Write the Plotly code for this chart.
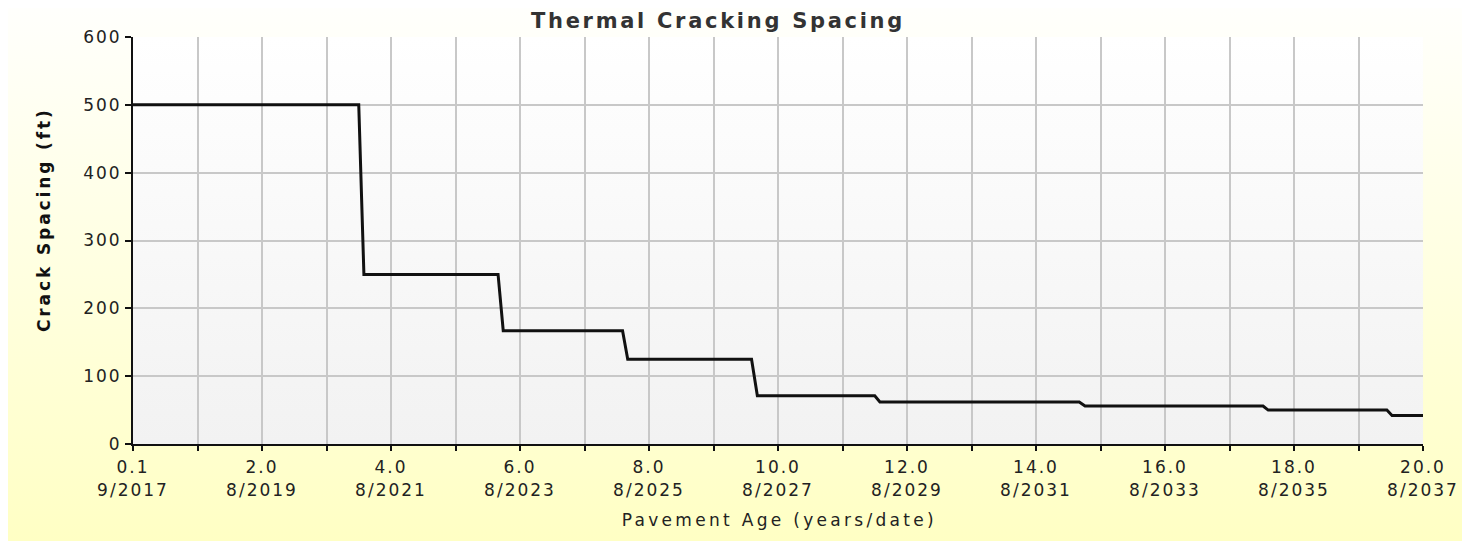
import base64
import plotly.graph_objects as go

# ---- data ----
age_years = [0.0, 3.50, 3.58, 5.66, 5.74, 7.59, 7.67, 9.59, 9.68, 11.50, 11.58,
             14.67, 14.76, 17.52, 17.60, 19.44, 19.52, 20.0]
crack_spacing_ft = [500, 500, 250, 250, 167, 167, 125, 125, 71, 71, 62,
                    62, 56, 56, 50, 50, 42, 42]

major_tick_vals = [0, 2, 4, 6, 8, 10, 12, 14, 16, 18, 20]
major_tick_ages = ["0.1", "2.0", "4.0", "6.0", "8.0", "10.0", "12.0", "14.0", "16.0", "18.0", "20.0"]
major_tick_dates = ["9/2017", "8/2019", "8/2021", "8/2023", "8/2025", "8/2027",
                    "8/2029", "8/2031", "8/2033", "8/2035", "8/2037"]
all_tick_vals = list(range(0, 21))
grid_x_vals = list(range(1, 20))
y_tick_vals = [0, 100, 200, 300, 400, 500, 600]

FONT = "DejaVu Sans"

OFF = 8                      # page body margin
W, H = 1478 - OFF, 542 - OFF  # figure size
L, R, T, B = 133, 1423, 37, 444  # plot area, screen pixels
pw, ph = R - L, B - T


def grad_uri(c_top, c_bottom):
    svg = ('<svg xmlns="http://www.w3.org/2000/svg" width="100" height="100" '
           'preserveAspectRatio="none"><defs><linearGradient id="g" x1="0" y1="0" x2="0" y2="1">'
           f'<stop offset="0" stop-color="{c_top}"/><stop offset="1" stop-color="{c_bottom}"/>'
           '</linearGradient></defs><rect width="100" height="100" fill="url(#g)"/></svg>')
    return "data:image/svg+xml;base64," + base64.b64encode(svg.encode()).decode()


def px_x(p):
    return (p - L) / pw


def px_y(p):
    return (B - p) / ph


label_map = {v: f"{a}<br>{d}" for v, a, d in zip(major_tick_vals, major_tick_ages, major_tick_dates)}
tick_text = [label_map.get(v, "") for v in all_tick_vals]

fig = go.Figure()
fig.add_trace(go.Scatter(x=age_years, y=crack_spacing_ft, mode="lines",
                         line=dict(color="#111111", width=3), hoverinfo="x+y",
                         showlegend=False))
# helper trace so the overlaying grid axis is drawn
fig.add_trace(go.Scatter(x=age_years, y=crack_spacing_ft, mode="lines",
                         line=dict(color="rgba(0,0,0,0)", width=0), hoverinfo="skip",
                         showlegend=False, xaxis="x2", yaxis="y"))

fig.update_layout(
    width=W, height=H,
    margin=dict(l=L - OFF, r=W - (R - OFF), t=T - OFF, b=H - (B - OFF), pad=0),
    paper_bgcolor="white",
    plot_bgcolor="rgba(0,0,0,0)",
    font=dict(family=FONT, size=17, color="#222222"),
    showlegend=False,
    xaxis=dict(range=[0, 20], tickmode="array", tickvals=all_tick_vals, ticktext=tick_text,
               ticks="outside", ticklen=5, tickwidth=2, tickcolor="#111111",
               ticklabelstandoff=2,
               showline=True, linecolor="#111111", linewidth=2,
               showgrid=False, zeroline=False,
               tickfont=dict(family=FONT, size=17, color="#222222")),
    xaxis2=dict(range=[0, 20], overlaying="x", anchor="y", side="bottom",
                tickmode="array", tickvals=grid_x_vals, showticklabels=False, ticks="",
                showgrid=True, gridcolor="#c8c8c8", gridwidth=2,
                showline=False, zeroline=False),
    yaxis=dict(range=[0, 600], tickmode="array", tickvals=y_tick_vals,
               ticks="outside", ticklen=6, tickwidth=2, tickcolor="#111111",
               showline=True, linecolor="#111111", linewidth=2,
               showgrid=True, gridcolor="#c8c8c8", gridwidth=2, zeroline=False,
               tickfont=dict(family=FONT, size=17, color="#222222")),
    title=dict(text="<b>Thermal Cracking Spacing</b>", x=px_x(718), xref="paper",
               xanchor="center", y=1 - (21 - OFF) / H, yref="container", yanchor="middle",
               pad=dict(t=0, b=0, l=0, r=0),
               font=dict(family=FONT, size=21, color="#333333")),
    images=[
        dict(source=grad_uri("#fffffd", "#ffffc4"), xref="paper", yref="paper",
             x=px_x(3), y=px_y(0), sizex=(1462 - 3) / pw, sizey=541 / ph,
             xanchor="left", yanchor="top", sizing="stretch", layer="below"),
        dict(source=grad_uri("#ffffff", "#f2f2f2"), xref="paper", yref="paper",
             x=0, y=1, sizex=1, sizey=1, xanchor="left", yanchor="top",
             sizing="stretch", layer="below"),
    ],
    annotations=[
        dict(text="<b>Crack Spacing (ft)</b>", xref="paper", yref="paper",
             x=px_x(44), y=px_y(219), xanchor="center", yanchor="middle",
             textangle=-90, showarrow=False,
             font=dict(family=FONT, size=17, color="#111111")),
        dict(text="Pavement Age (years/date)", xref="paper", yref="paper",
             x=px_x(779), y=px_y(520), xanchor="center", yanchor="middle",
             showarrow=False, font=dict(family=FONT, size=17, color="#222222")),
    ],
)

post_js = """
var gd = document.getElementById('{plot_id}');
function spacing() {
  gd.querySelectorAll('.xtick text, .ytick text').forEach(function (t) { t.style.letterSpacing = '2px'; });
  gd.querySelectorAll('.gtitle').forEach(function (t) { t.style.letterSpacing = '2.7px'; });
  gd.querySelectorAll('.annotation[data-index="0"] text').forEach(function (t) { t.style.letterSpacing = '2.9px'; });
  gd.querySelectorAll('.annotation[data-index="1"] text').forEach(function (t) { t.style.letterSpacing = '3.3px'; });
}
spacing();
gd.on('plotly_afterplot', spacing);
"""

fig.write_html("out.html", post_script=post_js)
